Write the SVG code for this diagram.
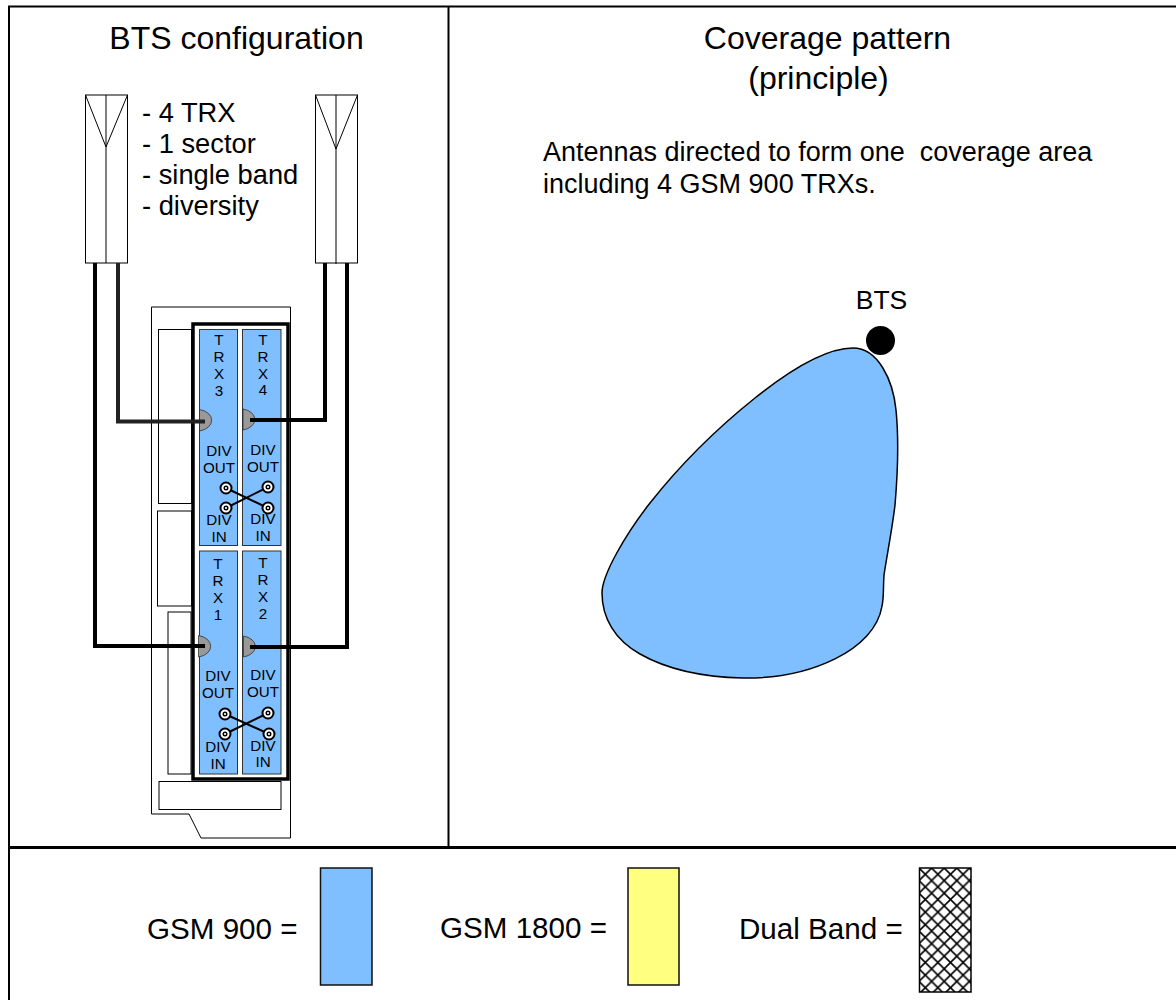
<svg xmlns="http://www.w3.org/2000/svg" width="1176" height="1000" viewBox="0 0 1176 1000">
<style>
text{font-family:"Liberation Sans",Arial,sans-serif;fill:#000}
.h{font-size:32px;text-anchor:middle}
.b{font-size:27px}
.s{font-size:27.3px}
.l{font-size:29.6px}
.t{font-size:15.2px;text-anchor:middle}
.thin{fill:#fff;stroke:#000;stroke-width:1}
.card{fill:#80bfff;stroke:#333;stroke-width:1}
.d{fill:#999;stroke:#222;stroke-width:.7}
.cable{fill:none;stroke:#000;stroke-width:4}
.x{fill:none;stroke:#000;stroke-width:2}
.fr{fill:none;stroke:#000}
</style>
<defs>
<pattern id="hatch" width="12.6" height="12.6" patternUnits="userSpaceOnUse" x="919" y="868">
<rect width="12.6" height="12.6" fill="#fff"/>
<path d="M0 0L12.6 12.6M12.6 0L0 12.6" stroke="#000" stroke-width="1.6"/>
</pattern>
<g id="coax"><circle r="5.5" fill="#fff" stroke="#000" stroke-width="2"/><circle r="1.8" fill="#fff" stroke="#000" stroke-width="1.4"/></g>
</defs>
<rect width="1176" height="1000" fill="#fff"/>
<g id="frame">
<path class="fr" stroke-width="2" d="M9 1000V6.5H1176M448.500 6V847"/>
<path class="fr" stroke-width="3" d="M8 847.500H1176"/>
</g>
<g id="titles">
<text class="h" x="236.500" y="48.500">BTS configuration</text>
<text class="h" x="827.500" y="48.500">Coverage pattern</text>
<text class="h" x="818.500" y="88.500">(principle)</text>
<text class="b" x="543" y="161" xml:space="preserve">Antennas directed to form one  coverage area</text>
<text class="b" x="543" y="193">including 4 GSM 900 TRXs.</text>
<text class="s" x="142" y="122">- 4 TRX</text>
<text class="s" x="142" y="153">- 1 sector</text>
<text class="s" x="142" y="184">- single band</text>
<text class="s" x="142" y="215">- diversity</text>
</g>
<g id="antenna-left">
<rect class="thin" x="85.500" y="95" width="42" height="168"/>
<path class="fr" d="M85.500 95L106 147L127.500 95M106 95V263"/>
</g>
<g id="antenna-right">
<rect class="thin" x="315.500" y="95" width="42" height="168"/>
<path class="fr" d="M315.500 95L336 149L357.500 95M336 95V264"/>
</g>
<g id="bts-board">
<path class="thin" d="M151.500 307H290.500V838H201L189 814H151.500Z"/>
<rect class="thin" x="158.500" y="329.500" width="33" height="174"/>
<rect class="thin" x="157.500" y="511" width="34" height="95"/>
<rect class="thin" x="168" y="612" width="23" height="162"/>
<rect class="thin" x="159" y="781.500" width="122" height="28"/>
<rect x="193" y="324" width="95" height="455" fill="#fff" stroke="#000" stroke-width="3.500"/>
</g>
<g id="trx3">
<rect class="card" x="199.500" y="329.500" width="38" height="216"/>
<text class="t"><tspan x="219" y="345">T</tspan><tspan x="219" y="362">R</tspan><tspan x="219" y="379">X</tspan><tspan x="219" y="396">3</tspan></text>
<path class="d" d="M199.500 409.500A15.500 11 0 0 1 199.500 431Z"/>
<text class="t"><tspan x="219" y="456">DIV</tspan><tspan x="219" y="473">OUT</tspan><tspan x="219" y="525">DIV</tspan><tspan x="219" y="542">IN</tspan></text>
</g>
<g id="trx4">
<rect class="card" x="242.500" y="329.500" width="38.500" height="216"/>
<text class="t"><tspan x="263" y="345">T</tspan><tspan x="263" y="362">R</tspan><tspan x="263" y="379">X</tspan><tspan x="263" y="395">4</tspan></text>
<path class="d" d="M243 409A15.500 10.800 0 0 1 243 430Z"/>
<text class="t"><tspan x="263" y="455">DIV</tspan><tspan x="263" y="472">OUT</tspan><tspan x="263" y="524">DIV</tspan><tspan x="263" y="541">IN</tspan></text>
</g>
<g id="trx1">
<rect class="card" x="199.500" y="551" width="38" height="223"/>
<text class="t"><tspan x="218" y="569">T</tspan><tspan x="218" y="586">R</tspan><tspan x="218" y="603">X</tspan><tspan x="218" y="620">1</tspan></text>
<path class="d" d="M198.500 635.500A15.500 11 0 0 1 198.500 657Z"/>
<text class="t"><tspan x="218" y="681">DIV</tspan><tspan x="218" y="698">OUT</tspan><tspan x="218" y="752">DIV</tspan><tspan x="218" y="769">IN</tspan></text>
</g>
<g id="trx2">
<rect class="card" x="242.500" y="551" width="38.500" height="223"/>
<text class="t"><tspan x="263" y="568">T</tspan><tspan x="263" y="585">R</tspan><tspan x="263" y="602">X</tspan><tspan x="263" y="619">2</tspan></text>
<path class="d" d="M243.500 636A15.500 10.800 0 0 1 243.500 657Z"/>
<text class="t"><tspan x="263" y="680">DIV</tspan><tspan x="263" y="697">OUT</tspan><tspan x="263" y="751">DIV</tspan><tspan x="263" y="767">IN</tspan></text>
</g>
<g id="connectors">
<path class="cable" d="M95 263V646H205"/>
<path class="cable" style="stroke:#222" d="M118 263V421.500H205"/>
<path class="cable" d="M325 263V420H250"/>
<path class="cable" d="M347 263V647H250"/>
<path class="x" d="M226 488L268 508M226 508L268 487"/>
<path class="x" d="M225 714L269 734M225 734L268 713"/>
<use href="#coax" x="226" y="488"/><use href="#coax" x="226" y="508"/>
<use href="#coax" x="268" y="487"/><use href="#coax" x="268" y="508"/>
<use href="#coax" x="225" y="714"/><use href="#coax" x="225" y="734"/>
<use href="#coax" x="268" y="713"/><use href="#coax" x="269" y="734"/>
</g>
<g id="coverage">
<path fill="#80bfff" stroke="#000" stroke-width="1.500" d="M853 348C878 348 893 380 896 410C899 440 898 470 895 505C892 530 887 555 884 575C883 590 884 597 882 606C875 650 810 679 743 678C695 677 663 667 640 654C615 640 602 618 602 593C602 575 625 535 650 503C680 465 715 430 755 398C790 370 825 348 853 348Z"/>
</g>
<g id="bts">
<text x="881.500" y="309" font-size="26.500" text-anchor="middle">BTS</text>
<circle cx="880.500" cy="340.500" r="14.500" fill="#000"/>
</g>
<g id="legend">
<text class="l" x="147" y="939">GSM 900 =</text>
<rect x="320.500" y="868" width="51.500" height="117" fill="#80bfff" stroke="#111" stroke-width="1.500"/>
<text class="l" x="440" y="938">GSM 1800 =</text>
<rect x="628" y="868" width="51" height="117" fill="#ffff80" stroke="#111" stroke-width="1.500"/>
<text class="l" x="739" y="939">Dual Band =</text>
<rect x="919.500" y="868" width="51.500" height="124" fill="url(#hatch)" stroke="#000" stroke-width="1.500"/>
</g>
</svg>
